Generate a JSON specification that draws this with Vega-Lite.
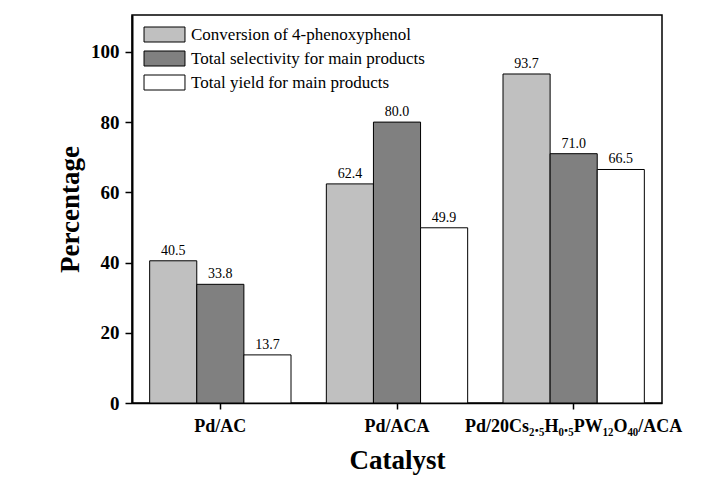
{
  "$schema": "https://vega.github.io/schema/vega-lite/v6.json",
  "width": 530,
  "height": 388,
  "autosize": {"type": "none"},
  "padding": {"left": 132, "top": 15, "right": 55, "bottom": 82},
  "background": "white",
  "config": {
    "view": {"stroke": "black", "strokeWidth": 1.5},
    "font": "Liberation Serif",
    "text": {"font": "Liberation Serif"},
    "legend": {"labelFont": "Liberation Serif"}
  },
  "data": {
    "values": [
      {"catalyst": "Pd/AC", "series": "Conversion of 4-phenoxyphenol", "value": 40.5},
      {"catalyst": "Pd/AC", "series": "Total selectivity for main products", "value": 33.8},
      {"catalyst": "Pd/AC", "series": "Total yield for main products", "value": 13.7},
      {"catalyst": "Pd/ACA", "series": "Conversion of 4-phenoxyphenol", "value": 62.4},
      {"catalyst": "Pd/ACA", "series": "Total selectivity for main products", "value": 80.0},
      {"catalyst": "Pd/ACA", "series": "Total yield for main products", "value": 49.9},
      {"catalyst": "Pd/20Cs₂.₅H₀.₅PW₁₂O₄₀/ACA", "series": "Conversion of 4-phenoxyphenol", "value": 93.7},
      {"catalyst": "Pd/20Cs₂.₅H₀.₅PW₁₂O₄₀/ACA", "series": "Total selectivity for main products", "value": 71.0},
      {"catalyst": "Pd/20Cs₂.₅H₀.₅PW₁₂O₄₀/ACA", "series": "Total yield for main products", "value": 66.5}
    ]
  },
  "encoding": {
    "x": {
      "field": "catalyst",
      "type": "nominal",
      "sort": null,
      "scale": {"paddingInner": 0.2, "paddingOuter": 0.1},
      "axis": {
        "title": "Catalyst",
        "labelAngle": 0,
        "labelFont": "Liberation Serif",
        "labelFontWeight": "bold",
        "labelFontSize": 18,
        "labelColor": "black",
        "labelPadding": 8,
        "labelLimit": 0,
        "tickColor": "black",
        "tickSize": 6,
        "tickWidth": 1.5,
        "domainColor": "black",
        "domainWidth": 1.5,
        "titleFont": "Liberation Serif",
        "titleFontSize": 27,
        "titleFontWeight": "bold",
        "titleColor": "black",
        "titlePadding": 12
      }
    },
    "xOffset": {
      "field": "series",
      "type": "nominal",
      "sort": null,
      "scale": {"paddingInner": 0, "paddingOuter": 0}
    },
    "y": {
      "field": "value",
      "type": "quantitative",
      "scale": {"domain": [0, 110.5], "nice": false},
      "axis": {
        "title": "Percentage",
        "values": [0, 20, 40, 60, 80, 100],
        "grid": false,
        "labelFont": "Liberation Serif",
        "labelFontWeight": "bold",
        "labelFontSize": 19,
        "labelColor": "black",
        "labelPadding": 6,
        "tickColor": "black",
        "tickSize": 7,
        "tickWidth": 1.5,
        "domainColor": "black",
        "domainWidth": 2,
        "titleFont": "Liberation Serif",
        "titleFontSize": 27,
        "titleFontWeight": "bold",
        "titleColor": "black",
        "titlePadding": 6
      }
    }
  },
  "layer": [
    {
      "mark": {"type": "bar", "stroke": "black", "strokeWidth": 1},
      "encoding": {
        "fill": {
          "field": "series",
          "type": "nominal",
          "sort": null,
          "scale": {"range": ["#c0c0c0", "#808080", "#ffffff"]},
          "legend": {
            "title": null,
            "orient": "none",
            "legendX": 24,
            "legendY": 11,
            "padding": 0,
            "symbolType": "M-2.73,-1H2.73V1H-2.73Z",
            "symbolSize": 225,
            "symbolStrokeColor": "black",
            "symbolStrokeWidth": 1,
            "symbolOpacity": 1,
            "labelFont": "Liberation Serif",
            "labelFontWeight": "normal",
            "labelFontSize": 17,
            "labelColor": "black",
            "labelOffset": 18,
            "rowPadding": 5,
            "labelLimit": 400
          }
        }
      }
    },
    {
      "mark": {"type": "text", "baseline": "alphabetic", "dy": -6, "font": "Liberation Serif", "fontSize": 14, "color": "black"},
      "encoding": {
        "text": {"field": "value", "type": "quantitative", "format": ".1f"}
      }
    }
  ]
}
